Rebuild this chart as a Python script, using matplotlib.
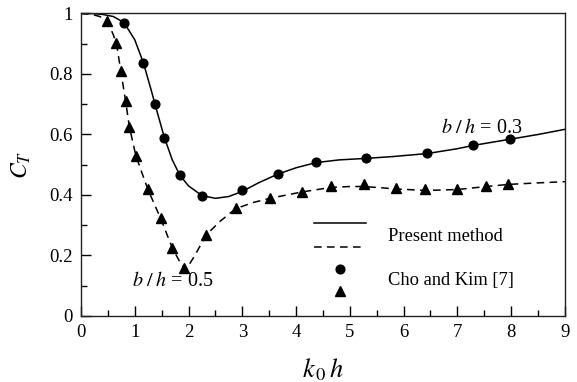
import matplotlib
matplotlib.use("Agg")
import matplotlib.pyplot as plt
from matplotlib.ticker import MultipleLocator

plt.rcParams['font.family'] = ['Liberation Serif', 'DejaVu Serif']
plt.rcParams['mathtext.fontset'] = 'stix'

# Present method, b/h = 0.3 (solid)
k_solid = [0.0, 0.2, 0.4, 0.6, 0.8, 1.0, 1.16, 1.3, 1.4, 1.55, 1.7, 1.84, 2.0, 2.25,
           2.5, 2.75, 3.0, 3.3, 3.66, 4.0, 4.37, 4.8, 5.3, 5.8, 6.44, 7.0, 7.3, 7.97, 8.5, 9.0]
c_solid = [1.0, 1.0, 0.997, 0.99, 0.97, 0.913, 0.837, 0.75, 0.685, 0.59, 0.515, 0.465, 0.43, 0.398,
           0.389, 0.395, 0.412, 0.44, 0.469, 0.49, 0.507, 0.516, 0.521, 0.527, 0.537, 0.553, 0.564, 0.584, 0.600, 0.617]

# Present method, b/h = 0.5 (dashed)
k_dash = [0.0, 0.2, 0.35, 0.49, 0.6, 0.66, 0.74, 0.83, 0.9, 1.02, 1.24, 1.48, 1.70, 1.85, 1.95,
          2.1, 2.33, 2.58, 2.88, 3.2, 3.51, 4.11, 4.65, 5.0, 5.27, 5.86, 6.4, 7.0, 7.54, 7.95, 8.5, 9.0]
c_dash = [1.0, 0.997, 0.99, 0.975, 0.93, 0.90, 0.81, 0.71, 0.625, 0.53, 0.42, 0.323, 0.224, 0.175, 0.152,
          0.195, 0.268, 0.312, 0.355, 0.375, 0.389, 0.41, 0.425, 0.428, 0.428, 0.42, 0.415, 0.418, 0.428, 0.435, 0.44, 0.444]

# Cho and Kim [7], b/h = 0.3 (circles)
k_cho3 = [0.80, 1.16, 1.37, 1.55, 1.84, 2.25, 2.99, 3.66, 4.37, 5.30, 6.44, 7.29, 7.97]
c_cho3 = [0.970, 0.837, 0.702, 0.587, 0.465, 0.397, 0.417, 0.469, 0.508, 0.521, 0.538, 0.564, 0.584]

# Cho and Kim [7], b/h = 0.5 (triangles)
k_cho5 = [0.49, 0.66, 0.74, 0.83, 0.90, 1.02, 1.24, 1.48, 1.70, 1.92, 2.33, 2.88, 3.51, 4.11,
          4.65, 5.27, 5.86, 6.40, 7.00, 7.54, 7.95]
c_cho5 = [0.976, 0.901, 0.810, 0.711, 0.624, 0.529, 0.419, 0.323, 0.224, 0.160, 0.268, 0.356, 0.389, 0.411,
          0.431, 0.435, 0.424, 0.419, 0.420, 0.431, 0.436]

xticks = [0, 1, 2, 3, 4, 5, 6, 7, 8, 9]
yticks = [0, 0.2, 0.4, 0.6, 0.8, 1.0]
ytick_labels = ['0', '0.2', '0.4', '0.6', '0.8', '1']

fig = plt.figure(figsize=(5.77, 3.82), dpi=100)
ax = fig.add_axes([0.1404, 0.1728, 0.8386, 0.7919])

ax.plot(k_solid, c_solid, color='black', lw=1.1)
ax.plot(k_dash, c_dash, color='black', lw=1.1, dashes=(5, 3.5))
ax.plot(k_cho3, c_cho3, 'o', color='black', ms=6.3, mec='black')
ax.plot(k_cho5, c_cho5, '^', color='black', ms=6.5, mec='black')

ax.set_xlim(0, 9)
ax.set_ylim(0, 1)
ax.set_xticks(xticks)
ax.set_yticks(yticks)
ax.set_yticklabels(ytick_labels)
ax.xaxis.set_minor_locator(MultipleLocator(0.5))
ax.yaxis.set_minor_locator(MultipleLocator(0.1))
ax.tick_params(which='major', direction='in', length=7, width=1, labelsize=13.5, pad=6,
               top=False, right=False, colors='black')
ax.tick_params(which='minor', direction='in', length=4.3, width=1, top=False, right=False)
for s in ax.spines.values():
    s.set_linewidth(1.0)
    s.set_color('#222222')

ax.set_xlabel(r'$k_{\,0}\,h$', fontsize=19, labelpad=11)
ax.set_ylabel(r'$C_T$', fontsize=17, labelpad=12)

ax.text(6.70, 0.62, r'$b\;/\;h$ = 0.3', fontsize=14.5, va='center', ha='left')
ax.text(0.94, 0.113, r'$b\;/\;h$ = 0.5', fontsize=14.5, va='center', ha='left')

# legend (drawn in axes coordinates)
tr = ax.transAxes
ax.plot([0.481, 0.588], [0.306, 0.306], color='black', lw=1.1, transform=tr)
ax.plot([0.481, 0.588], [0.229, 0.229], color='black', lw=1.1, dashes=(5, 3.5), transform=tr)
ax.plot([0.535], [0.154], 'o', color='black', ms=6.3, transform=tr)
ax.plot([0.535], [0.084], '^', color='black', ms=6.5, transform=tr)
ax.text(0.634, 0.264, 'Present method', fontsize=13.3, va='center', ha='left', transform=tr)
ax.text(0.634, 0.118, 'Cho and Kim [7]', fontsize=13.3, va='center', ha='left', transform=tr)

fig.savefig('out.png', dpi=100)
